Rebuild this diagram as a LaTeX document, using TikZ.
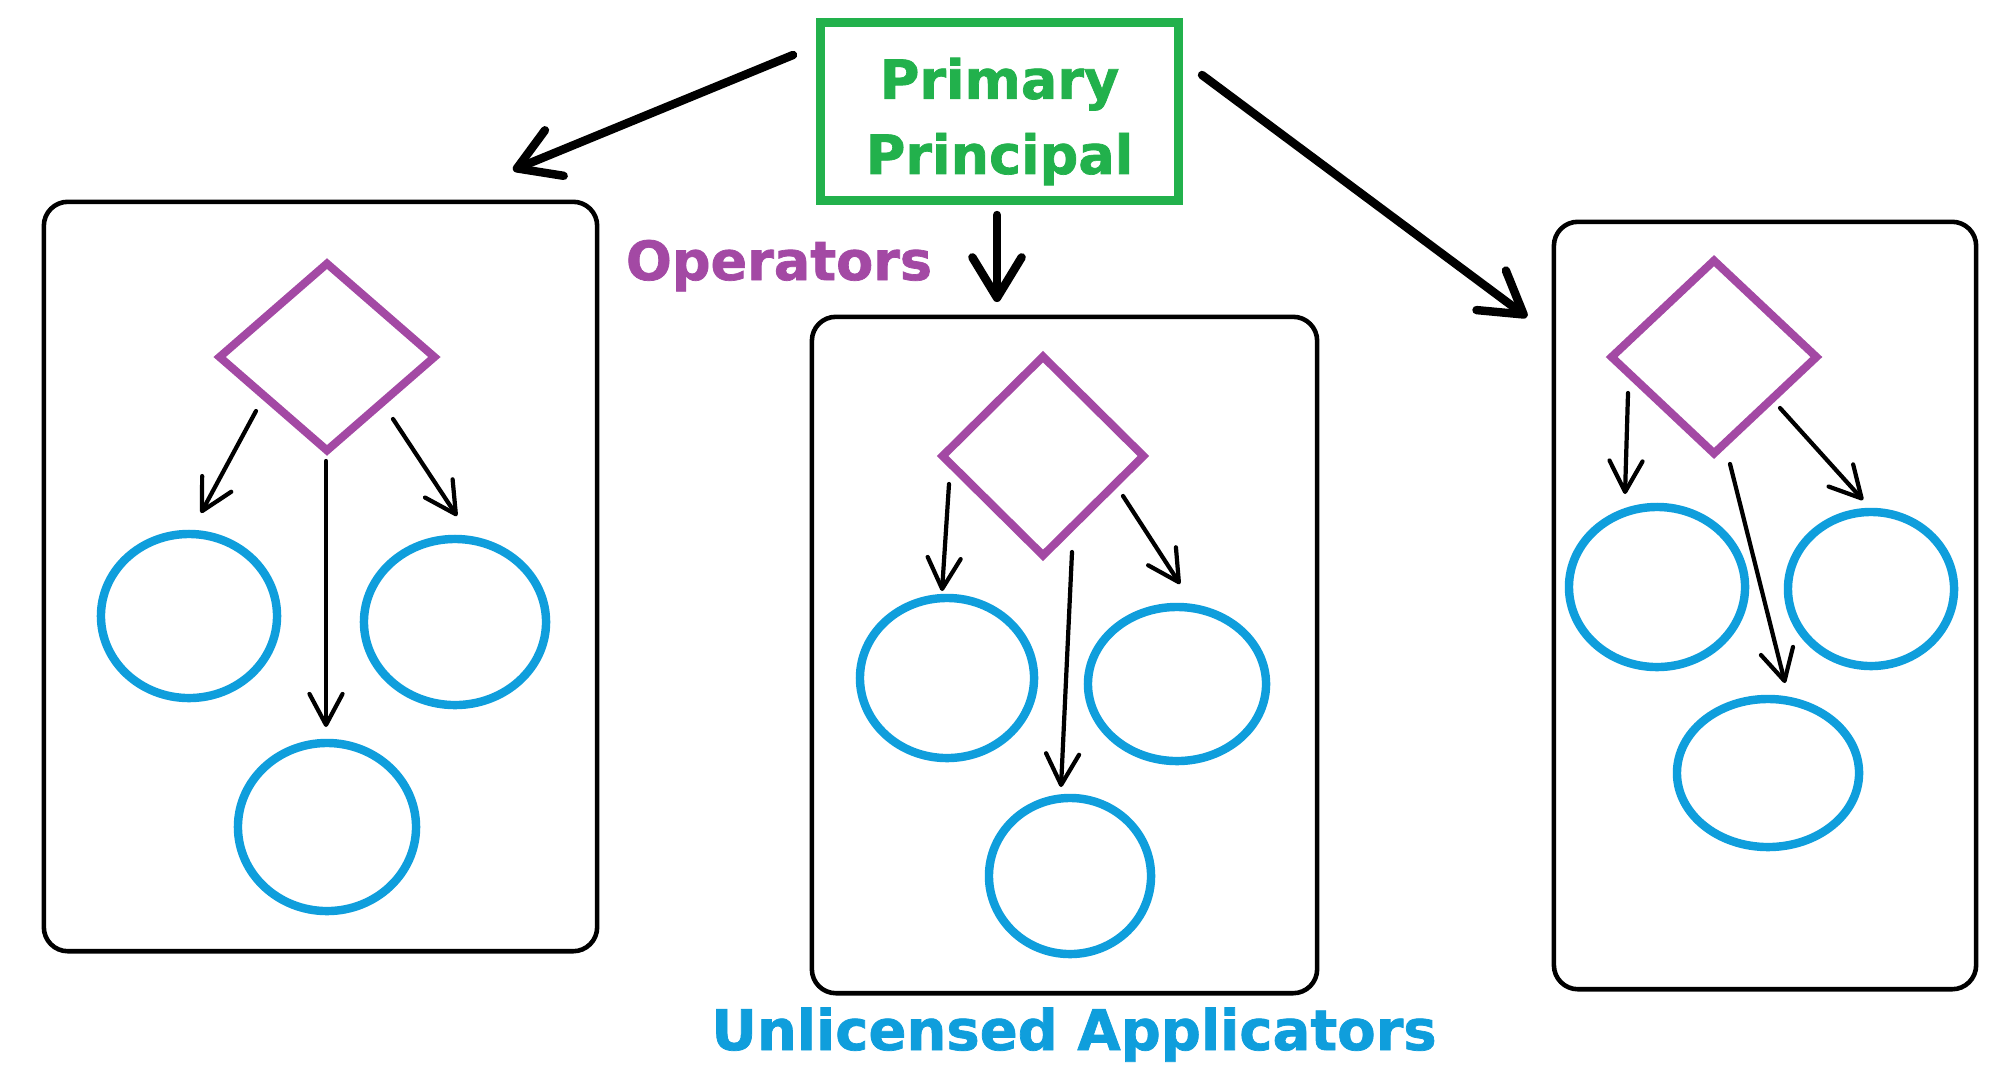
\documentclass[tikz,border=0pt]{standalone}
\usepackage{fontspec}
\newfontfamily\diagfont{DejaVu Sans}[BoldFeatures={FakeBold=1.3}]
\usetikzlibrary{arrows.meta,shapes.geometric}
\definecolor{ppgreen}{RGB}{34,177,76}
\definecolor{oppurple}{RGB}{163,73,164}
\definecolor{appblue}{RGB}{15,158,220}

\begin{document}
\begin{tikzpicture}[x=0.01cm, y=-0.01cm,
  principal/.style={draw=ppgreen, line width=2.56pt, minimum width=3.58cm,
    minimum height=1.78cm, inner sep=0pt, text=ppgreen, align=center,
    font=\diagfont\bfseries\fontsize{0.54cm}{0.75cm}\selectfont},
  group/.style={draw=black, line width=1.3pt, rounded corners=0.24cm, inner sep=0pt},
  opdiamond/.style={diamond, draw=oppurple, line width=2.3pt, inner sep=0pt},
  applicator/.style={ellipse, draw=appblue, line width=2.4pt, inner sep=0pt},
  bigarrow/.style={line width=2.4pt, line cap=round,
    -{Straight Barb[length=11.5pt,width=14pt,round]}},
  smallarrow/.style={line width=1.2pt, line cap=round,
    -{Straight Barb[length=8.8pt,width=9.4pt,round]}},
  caption/.style={anchor=base, inner sep=0pt,
    font=\diagfont\bfseries\fontsize{0.54cm}{0.65cm}\selectfont}
]
\fill[white] (0,0) rectangle (1998,1066);
\useasboundingbox (0,0) rectangle (1998,1066);

% top-level principal
\node[principal] (pp) at (999.5,111.5) {\rule{0pt}{0.61cm}Primary\\Principal};

% three groups of operators
\node[group, minimum width=5.53cm, minimum height=7.49cm] (lbox) at (320.5,576.5) {};
\node[group, minimum width=5.05cm, minimum height=6.76cm] (mbox) at (1064.5,655) {};
\node[group, minimum width=4.22cm, minimum height=7.67cm] (rbox) at (1765,605.5) {};

% operators
\node[opdiamond, minimum width=2.18cm, minimum height=1.90cm] (ldia) at (327,357) {};
\node[opdiamond, minimum width=2.04cm, minimum height=2.02cm] (mdia) at (1043,456) {};
\node[opdiamond, minimum width=2.08cm, minimum height=1.96cm] (rdia) at (1714,357) {};

% applicators, left group
\node[applicator, minimum width=1.76cm, minimum height=1.64cm] (l1) at (189,616) {};
\node[applicator, minimum width=1.82cm, minimum height=1.66cm] (l2) at (455,622) {};
\node[applicator, minimum width=1.78cm, minimum height=1.68cm] (l3) at (327,827) {};
% applicators, middle group
\node[applicator, minimum width=1.74cm, minimum height=1.60cm] (m1) at (947,678) {};
\node[applicator, minimum width=1.78cm, minimum height=1.54cm] (m2) at (1177,684) {};
\node[applicator, minimum width=1.62cm, minimum height=1.56cm] (m3) at (1070,876) {};
% applicators, right group
\node[applicator, minimum width=1.76cm, minimum height=1.60cm] (r1) at (1657,587) {};
\node[applicator, minimum width=1.66cm, minimum height=1.54cm] (r2) at (1871,589) {};
\node[applicator, minimum width=1.82cm, minimum height=1.48cm] (r3) at (1768,773) {};

% captions
\node[caption, text=oppurple] (ops) at (779,280) {Operators};
\node[caption, text=appblue, font=\diagfont\bfseries\fontsize{0.56cm}{0.67cm}\selectfont]
  (unl) at (1074,1050) {Unlicensed Applicators};

% principal to groups
\draw[bigarrow] ([shift={(-206.5,-56.5)}]pp.center) -- ([shift={(192.5,-406.5)}]lbox.center);
\draw[bigarrow] ([shift={(-2.5,103.5)}]pp.center) -- ([shift={(-67.5,-353)}]mbox.center);
\draw[bigarrow] ([shift={(202.5,-36.5)}]pp.center) -- ([shift={(-238,-288.5)}]rbox.center);

% operators to applicators
\draw[smallarrow] ([shift={(-71,54)}]ldia.center) -- ([shift={(12,-103)}]l1.center);
\draw[smallarrow] ([shift={(-1,104)}]ldia.center) -- ([shift={(-1,-100)}]l3.center);
\draw[smallarrow] ([shift={(66,62)}]ldia.center) -- ([shift={(2,-106)}]l2.center);

\draw[smallarrow] ([shift={(-94,28)}]mdia.center) -- ([shift={(-5,-87)}]m1.center);
\draw[smallarrow] ([shift={(29,96)}]mdia.center) -- ([shift={(-9,-89)}]m3.center);
\draw[smallarrow] ([shift={(80,40)}]mdia.center) -- ([shift={(3,-100)}]m2.center);

\draw[smallarrow] ([shift={(-86,36)}]rdia.center) -- ([shift={(-32,-93)}]r1.center);
\draw[smallarrow] ([shift={(16,107)}]rdia.center) -- ([shift={(17,-90)}]r3.center);
\draw[smallarrow] ([shift={(66,51)}]rdia.center) -- ([shift={(-8,-89)}]r2.center);
\end{tikzpicture}
\end{document}
